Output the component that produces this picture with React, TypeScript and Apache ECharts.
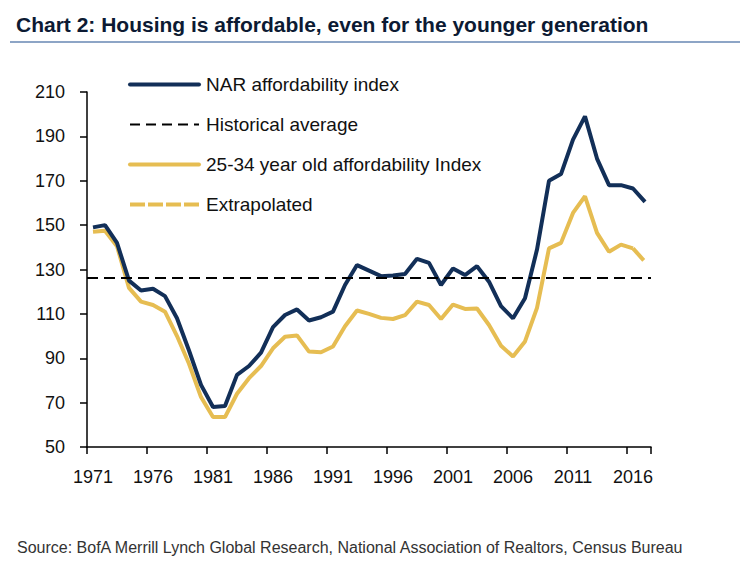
import React, { useEffect, useRef } from "react";
import * as echarts from "echarts";

const years: string[] = [];
for (let y = 1971; y <= 2017; y++) years.push(String(y));

const narIndex = [
  149, 150, 142, 125, 120.5, 121.3, 118, 108, 93.5, 78, 68, 68.5, 82.5, 86.5, 92.5, 104, 109.5, 112,
  107, 108.5, 111, 123, 132, 129.5, 127, 127.3, 128, 134.8, 133, 123, 130.5, 127.5, 131.5, 124.5,
  113.5, 108, 117, 139, 170, 173, 188.5, 199, 180, 168, 168, 166.5, 160.5,
];

const youngIndex = [
  147, 147.5, 140.5, 121.7, 115.5, 114, 111, 100, 87.5, 72.5, 63.5, 63.5, 74, 81, 86.5, 94.5, 99.7,
  100.3, 93, 92.7, 95.3, 104.4, 111.5, 110, 108.2, 107.7, 109.4, 115.5, 114, 107.7, 114.2, 112.2,
  112.4, 105, 95.6, 90.8, 97.6, 112.7, 139.5, 142, 155.5, 163, 146.5, 138, 141.2, 139.5, null,
];

const extrapolated = [
  ...new Array(45).fill(null), 139.5, 133.5,
];

const historicalAverage = 126.5;

const FONT = '"Liberation Sans", Arial, Helvetica, sans-serif';
const NAVY = "#122f58";
const GOLD = "#e6bd52";

export default function App() {
  const ref = useRef<HTMLDivElement>(null);
  useEffect(() => {
    if (!ref.current) return;
    const chart = echarts.init(ref.current, undefined, { renderer: "svg" });
    chart.setOption({
      animation: false,
      backgroundColor: "#ffffff",
      textStyle: { fontFamily: FONT },
      title: {
        text: "Chart 2: Housing is affordable, even for the younger generation",
        left: 11,
        top: 9,
        textStyle: { fontSize: 21, fontWeight: "bold", color: "#0c1a33", fontFamily: FONT },
      },
      graphic: [
        {
          type: "line",
          shape: { x1: 10, y1: 42, x2: 740, y2: 42 },
          style: { stroke: "#8da5c6", lineWidth: 2 },
        },
        {
          type: "text",
          left: 17,
          top: 539,
          style: {
            text: "Source: BofA Merrill Lynch Global Research, National Association of Realtors, Census Bureau",
            font: `16px ${FONT}`,
            fill: "#333333",
          },
        },
      ],
      legend: {
        orient: "vertical",
        left: 123,
        top: 70,
        itemWidth: 69,
        itemHeight: 14,
        itemGap: 21,
        itemStyle: { opacity: 0, borderWidth: 0 },
        textStyle: { fontSize: 19, color: "#111111", fontFamily: FONT, padding: [0, 0, 0, 2] },
        data: [
          { name: "NAR affordability index", lineStyle: { width: 4, color: NAVY, cap: "round" } },
          { name: "Historical average", lineStyle: { width: 2, color: "#000", type: [10, 6] } },
          { name: "25-34 year old affordability Index", lineStyle: { width: 4, color: GOLD, cap: "round" } },
          { name: "Extrapolated", lineStyle: { width: 4, color: GOLD, type: [15, 3] } },
        ],
      },
      grid: { left: 87, right: 93, top: 92, bottom: 123, containLabel: false },
      xAxis: {
        type: "category",
        data: years,
        boundaryGap: true,
        axisLine: { lineStyle: { color: "#000", width: 1.5 } },
        axisTick: { show: true, interval: 4, length: 7, lineStyle: { color: "#000", width: 1.5 } },
        axisLabel: { interval: 4, fontSize: 18, color: "#111", margin: 21, fontFamily: FONT },
        splitLine: { show: false },
      },
      yAxis: {
        type: "value",
        min: 50,
        max: 210,
        interval: 20,
        axisLine: { show: true, lineStyle: { color: "#000", width: 1.5 } },
        axisTick: { show: true, length: 7, lineStyle: { color: "#000", width: 1.5 } },
        axisLabel: { fontSize: 18, color: "#111", margin: 22, fontFamily: FONT },
        splitLine: { show: false },
      },
      series: [
        {
          name: "NAR affordability index",
          type: "line",
          data: narIndex,
          symbol: "none",
          lineStyle: { color: NAVY, width: 4 },
          itemStyle: { color: NAVY },
          z: 3,
        },
        {
          name: "Historical average",
          type: "line",
          data: [],
          symbol: "none",
          lineStyle: { color: "#000", width: 2, type: [11, 6] },
          itemStyle: { color: "#000" },
          markLine: {
            silent: true,
            symbol: "none",
            label: { show: false },
            lineStyle: { color: "#000", width: 2, type: [11, 6] },
            data: [{ yAxis: historicalAverage }],
          },
          z: 4,
        },
        {
          name: "25-34 year old affordability Index",
          type: "line",
          data: youngIndex,
          symbol: "none",
          lineStyle: { color: GOLD, width: 4 },
          itemStyle: { color: GOLD },
          z: 2,
        },
        {
          name: "Extrapolated",
          type: "line",
          data: extrapolated,
          symbol: "none",
          lineStyle: { color: GOLD, width: 4, type: [16, 3] },
          itemStyle: { color: GOLD },
          z: 2,
        },
      ],
    });
    return () => chart.dispose();
  }, []);
  return (
    <div
      ref={ref}
      style={{ position: "fixed", left: 0, top: 0, width: 744, height: 570, background: "#fff" }}
    />
  );
}
